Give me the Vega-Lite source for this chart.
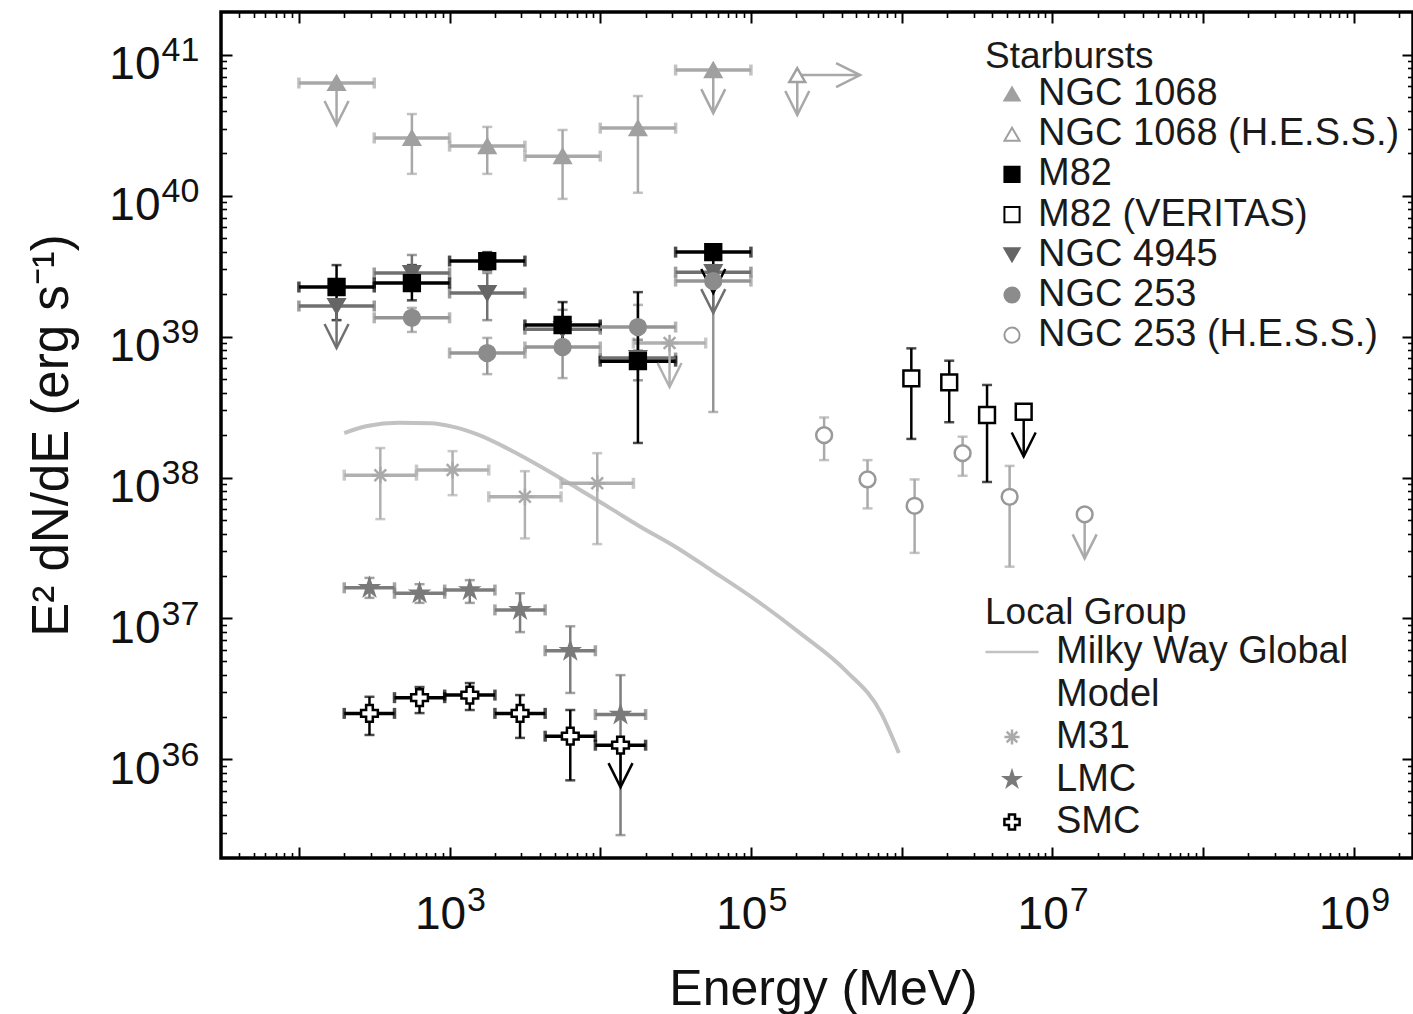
{
"$schema":"https://vega.github.io/schema/vega-lite/v6.json",
"width":1192,"height":846,
"autosize":{"type":"none"},
"padding":{"left":221,"top":12,"right":0,"bottom":156},
"background":"white",
"config":{"view":{"stroke":"#000","strokeWidth":3.5},
"axis":{"grid":false,"labelFont":"Liberation Sans","titleFont":"Liberation Sans","labelColor":"#111","titleColor":"#111","titleFontWeight":"normal","labelFlush":false,"labelOverlap":false}},
"datasets":{
"mw":[
{"e":200,"f":2.07e38},{"e":284,"f":2.32e38},{"e":461,"f":2.45e38},{"e":745,"f":2.43e38},{"e":1042,"f":2.30e38},{"e":1575,"f":2.00e38},{"e":2529,"f":1.57e38},{"e":4063,"f":1.19e38},{"e":7047,"f":8.4e37},{"e":12220,"f":5.87e37},{"e":18460,"f":4.48e37},{"e":31490,"f":3.23e37},{"e":54580,"f":2.20e37},{"e":108000,"f":1.35e37},{"e":212000,"f":7.87e36},{"e":422000,"f":4.30e36},{"e":732000,"f":2.13e36},{"e":959000,"f":1.11e36}],
"pts":[
{"src":"NGC 1068","e":177.8,"elo":100,"ehi":316.2,"f":6.31e40,"ul":true,"ftip":3.18e40},
{"src":"NGC 1068","e":562.3,"elo":316.2,"ehi":1000,"f":2.57e40,"flo":1.43e40,"fhi":3.80e40},
{"src":"NGC 1068","e":1778,"elo":1000,"ehi":3162,"f":2.25e40,"flo":1.43e40,"fhi":3.08e40},
{"src":"NGC 1068","e":5623,"elo":3162,"ehi":10000,"f":1.91e40,"flo":9.5e39,"fhi":2.93e40},
{"src":"NGC 1068","e":17783,"elo":10000,"ehi":31623,"f":3.02e40,"flo":1.05e40,"fhi":5.10e40},
{"src":"NGC 1068","e":56234,"elo":31623,"ehi":100000,"f":7.80e40,"ul":true,"ftip":3.86e40},
{"src":"NGC 1068 (H.E.S.S.)","e":203000,"f":7.19e40,"ul":true,"ftip":3.74e40,"eright":530000},
{"src":"NGC 4945","e":177.8,"elo":100,"ehi":316.2,"f":1.65e39,"ul":true,"ftip":8.3e38},
{"src":"NGC 4945","e":562.3,"elo":316.2,"ehi":1000,"f":2.83e39,"flo":2.18e39,"fhi":3.80e39},
{"src":"NGC 4945","e":1778,"elo":1000,"ehi":3162,"f":2.04e39,"flo":1.31e39,"fhi":2.83e39},
{"src":"NGC 4945","e":5623,"elo":3162,"ehi":10000,"f":1.13e39,"flo":8.0e38,"fhi":1.55e39},
{"src":"NGC 4945","e":17783,"elo":10000,"ehi":31623,"f":7.05e38,"flo":4.9e38,"fhi":9.5e38},
{"src":"NGC 4945","e":56234,"elo":31623,"ehi":100000,"f":2.87e39,"ul":true,"ftip":1.47e39},
{"src":"NGC 253","e":562.3,"elo":316.2,"ehi":1000,"f":1.36e39,"flo":1.08e39,"fhi":1.60e39},
{"src":"NGC 253","e":1778,"elo":1000,"ehi":3162,"f":7.65e38,"flo":5.42e38,"fhi":9.8e38},
{"src":"NGC 253","e":5623,"elo":3162,"ehi":10000,"f":8.44e38,"flo":5.08e38,"fhi":1.11e39},
{"src":"NGC 253","e":17783,"elo":10000,"ehi":31623,"f":1.17e39,"flo":8.0e38,"fhi":1.68e39},
{"src":"NGC 253","e":56234,"elo":31623,"ehi":100000,"f":2.48e39,"flo":2.92e38,"fhi":3.22e39},
{"src":"M82","e":177.8,"elo":100,"ehi":316.2,"f":2.25e39,"flo":1.31e39,"fhi":3.22e39},
{"src":"M82","e":562.3,"elo":316.2,"ehi":1000,"f":2.40e39,"flo":1.81e39,"fhi":3.22e39},
{"src":"M82","e":1778,"elo":1000,"ehi":3162,"f":3.44e39,"flo":2.96e39,"fhi":3.98e39},
{"src":"M82","e":5623,"elo":3162,"ehi":10000,"f":1.21e39,"flo":8.0e38,"fhi":1.76e39},
{"src":"M82","e":17783,"elo":10000,"ehi":31623,"f":6.7e38,"flo":1.76e38,"fhi":2.07e39},
{"src":"M82","e":56234,"elo":31623,"ehi":100000,"f":3.98e39,"ul":true,"ftip":2.04e39},
{"src":"NGC 253 (H.E.S.S.)","e":306000,"f":2.00e38,"flo":1.33e38,"fhi":2.67e38},
{"src":"NGC 253 (H.E.S.S.)","e":594000,"f":9.7e37,"flo":6.04e37,"fhi":1.33e38},
{"src":"NGC 253 (H.E.S.S.)","e":1220000,"f":6.3e37,"flo":2.92e37,"fhi":9.7e37},
{"src":"NGC 253 (H.E.S.S.)","e":2540000,"f":1.49e38,"flo":1.03e38,"fhi":1.95e38},
{"src":"NGC 253 (H.E.S.S.)","e":5210000,"f":7.3e37,"flo":2.33e37,"fhi":1.21e38},
{"src":"NGC 253 (H.E.S.S.)","e":16400000,"f":5.48e37,"ul":true,"ftip":2.67e37},
{"src":"M82 (VERITAS)","e":1160000,"f":5.06e38,"flo":1.88e38,"fhi":8.26e38},
{"src":"M82 (VERITAS)","e":2070000,"f":4.74e38,"flo":2.47e38,"fhi":6.75e38},
{"src":"M82 (VERITAS)","e":3690000,"f":2.78e38,"flo":9.3e37,"fhi":4.54e38},
{"src":"M82 (VERITAS)","e":6460000,"f":2.93e38,"ul":true,"ftip":1.41e38},
{"src":"M31","e":347,"elo":200,"ehi":603,"f":1.04e38,"flo":5.07e37,"fhi":1.62e38},
{"src":"M31","e":1047,"elo":603,"ehi":1820,"f":1.13e38,"flo":7.5e37,"fhi":1.54e38},
{"src":"M31","e":3162,"elo":1820,"ehi":5495,"f":7.3e37,"flo":3.7e37,"fhi":1.11e38},
{"src":"M31","e":9550,"elo":5495,"ehi":16600,"f":9.1e37,"flo":3.37e37,"fhi":1.49e38},
{"src":"M31","e":28840,"elo":16600,"ehi":50100,"f":9.0e38,"ul":true,"ftip":4.39e38},
{"src":"LMC","e":294,"elo":200,"ehi":431,"f":1.65e37,"flo":1.40e37,"fhi":1.94e37},
{"src":"LMC","e":632,"elo":431,"ehi":928,"f":1.51e37,"flo":1.29e37,"fhi":1.75e37},
{"src":"LMC","e":1362,"elo":928,"ehi":2000,"f":1.59e37,"flo":1.29e37,"fhi":1.87e37},
{"src":"LMC","e":2936,"elo":2000,"ehi":4309,"f":1.15e37,"flo":8.0e36,"fhi":1.51e37},
{"src":"LMC","e":6325,"elo":4309,"ehi":9283,"f":5.9e36,"flo":2.96e36,"fhi":8.8e36},
{"src":"LMC","e":13630,"elo":9283,"ehi":20000,"f":2.08e36,"flo":2.9e35,"fhi":3.96e36},
{"src":"SMC","e":294,"elo":200,"ehi":431,"f":2.12e36,"flo":1.49e36,"fhi":2.78e36},
{"src":"SMC","e":632,"elo":431,"ehi":928,"f":2.74e36,"flo":2.13e36,"fhi":3.26e36},
{"src":"SMC","e":1362,"elo":928,"ehi":2000,"f":2.86e36,"flo":2.24e36,"fhi":3.48e36},
{"src":"SMC","e":2936,"elo":2000,"ehi":4309,"f":2.12e36,"flo":1.42e36,"fhi":2.86e36},
{"src":"SMC","e":6325,"elo":4309,"ehi":9283,"f":1.46e36,"flo":7.1e35,"fhi":2.24e36},
{"src":"SMC","e":13630,"elo":9283,"ehi":20000,"f":1.26e36,"ul":true,"ftip":6.35e35}
]},
"data":{"name":"mw"},
"layer":[
{"mark":{"type":"line","color":"#c2c2c2","strokeWidth":4,"interpolate":"monotone"},
 "encoding":{"x":{"field":"e","type":"quantitative","scale":{"type":"log","domain":[30.41,2.477e9],"nice":false},"axis":null},
 "y":{"field":"f","type":"quantitative","scale":{"type":"log","domain":[1.995e35,2.014e41],"nice":false},"axis":null}}},
{"data":{"name":"pts"},"transform":[{"filter":"isValid(datum.elo)"}],
 "mark":{"type":"errorbar","ticks":true,"size":11,"thickness":3.5},
 "encoding":{"x":{"field":"elo","type":"quantitative","scale":{"type":"log","domain":[30.41,2.477e9],"nice":false},"axis":null},"x2":{"field":"ehi"},
 "y":{"field":"f","type":"quantitative","scale":{"type":"log","domain":[1.995e35,2.014e41],"nice":false},"axis":null},
 "color":{"field":"src","type":"nominal","legend":null,"scale":{"domain":["NGC 1068","NGC 1068 (H.E.S.S.)","M82","M82 (VERITAS)","NGC 4945","NGC 253","NGC 253 (H.E.S.S.)","M31","LMC","SMC"],"range":["#a8a8a8","#a8a8a8","#000000","#000000","#707070","#959595","#aaaaaa","#b0b0b0","#7c7c7c","#000000"]}}}},
{"data":{"name":"pts"},"transform":[{"filter":"isValid(datum.flo)"}],
 "mark":{"type":"errorbar","ticks":true,"size":10,"thickness":2.5},
 "encoding":{"y":{"field":"flo","type":"quantitative","scale":{"type":"log","domain":[1.995e35,2.014e41],"nice":false},"axis":null},"y2":{"field":"fhi"},
 "x":{"field":"e","type":"quantitative","scale":{"type":"log","domain":[30.41,2.477e9],"nice":false},"axis":null},
 "color":{"field":"src","type":"nominal","legend":null,"scale":{"domain":["NGC 1068","NGC 1068 (H.E.S.S.)","M82","M82 (VERITAS)","NGC 4945","NGC 253","NGC 253 (H.E.S.S.)","M31","LMC","SMC"],"range":["#a8a8a8","#a8a8a8","#000000","#000000","#707070","#959595","#aaaaaa","#b0b0b0","#7c7c7c","#000000"]}}}},
{"data":{"name":"pts"},"transform":[{"filter":"datum.ul === true"}],
 "mark":{"type":"rule","strokeWidth":2.5},
 "encoding":{"x":{"field":"e","type":"quantitative","scale":{"type":"log","domain":[30.41,2.477e9],"nice":false},"axis":null},
 "y":{"field":"f","type":"quantitative","scale":{"type":"log","domain":[1.995e35,2.014e41],"nice":false},"axis":null},"y2":{"field":"ftip"},
 "color":{"field":"src","type":"nominal","legend":null,"scale":{"domain":["NGC 1068","NGC 1068 (H.E.S.S.)","M82","M82 (VERITAS)","NGC 4945","NGC 253","NGC 253 (H.E.S.S.)","M31","LMC","SMC"],"range":["#a8a8a8","#a8a8a8","#000000","#000000","#707070","#959595","#aaaaaa","#b0b0b0","#7c7c7c","#000000"]}}}},
{"data":{"name":"pts"},"transform":[{"filter":"datum.ul === true"}],
 "mark":{"type":"point","shape":"M-1,-2L0,0L1,-2","size":576,"filled":false,"strokeWidth":2.5,"opacity":1},
 "encoding":{"x":{"field":"e","type":"quantitative","scale":{"type":"log","domain":[30.41,2.477e9],"nice":false},"axis":null},
 "y":{"field":"ftip","type":"quantitative","scale":{"type":"log","domain":[1.995e35,2.014e41],"nice":false},"axis":null},
 "color":{"field":"src","type":"nominal","legend":null,"scale":{"domain":["NGC 1068","NGC 1068 (H.E.S.S.)","M82","M82 (VERITAS)","NGC 4945","NGC 253","NGC 253 (H.E.S.S.)","M31","LMC","SMC"],"range":["#a8a8a8","#a8a8a8","#000000","#000000","#707070","#959595","#aaaaaa","#b0b0b0","#7c7c7c","#000000"]}}}},
{"data":{"name":"pts"},"transform":[{"filter":"isValid(datum.eright)"}],
 "mark":{"type":"rule","strokeWidth":2.5},
 "encoding":{"x":{"field":"e","type":"quantitative","scale":{"type":"log","domain":[30.41,2.477e9],"nice":false},"axis":null},"x2":{"field":"eright"},
 "y":{"field":"f","type":"quantitative","scale":{"type":"log","domain":[1.995e35,2.014e41],"nice":false},"axis":null},
 "color":{"field":"src","type":"nominal","legend":null,"scale":{"domain":["NGC 1068","NGC 1068 (H.E.S.S.)","M82","M82 (VERITAS)","NGC 4945","NGC 253","NGC 253 (H.E.S.S.)","M31","LMC","SMC"],"range":["#a8a8a8","#a8a8a8","#000000","#000000","#707070","#959595","#aaaaaa","#b0b0b0","#7c7c7c","#000000"]}}}},
{"data":{"name":"pts"},"transform":[{"filter":"isValid(datum.eright)"}],
 "mark":{"type":"point","shape":"M-2,-1L0,0L-2,1","size":576,"filled":false,"strokeWidth":2.5,"opacity":1},
 "encoding":{"x":{"field":"eright","type":"quantitative","scale":{"type":"log","domain":[30.41,2.477e9],"nice":false},"axis":null},
 "y":{"field":"f","type":"quantitative","scale":{"type":"log","domain":[1.995e35,2.014e41],"nice":false},"axis":null},
 "color":{"field":"src","type":"nominal","legend":null,"scale":{"domain":["NGC 1068","NGC 1068 (H.E.S.S.)","M82","M82 (VERITAS)","NGC 4945","NGC 253","NGC 253 (H.E.S.S.)","M31","LMC","SMC"],"range":["#a8a8a8","#a8a8a8","#000000","#000000","#707070","#959595","#aaaaaa","#b0b0b0","#7c7c7c","#000000"]}}}},
{"data":{"name":"pts"},"transform":[{"filter":{"field":"src","oneOf":["NGC 1068","NGC 1068 (H.E.S.S.)","M82","M82 (VERITAS)","NGC 4945","NGC 253","NGC 253 (H.E.S.S.)"]}}],
 "mark":{"type":"point","filled":true,"size":250,"strokeWidth":2.5,"opacity":1},
 "encoding":{"x":{"field":"e","type":"quantitative","scale":{"type":"log","domain":[30.41,2.477e9],"nice":false},"axis":null},
 "y":{"field":"f","type":"quantitative","scale":{"type":"log","domain":[1.995e35,2.014e41],"nice":false},"axis":null},
 "shape":{"field":"src","type":"nominal","scale":{"domain":["NGC 1068","NGC 1068 (H.E.S.S.)","M82","M82 (VERITAS)","NGC 4945","NGC 253","NGC 253 (H.E.S.S.)"],"range":["triangle-up","triangle-up","square","square","triangle-down","circle","circle"]},
  "legend":{"title":"Starbursts","orient":"none","legendX":764,"legendY":27,"direction":"vertical","symbolOffset":8,"labelOffset":7,"rowPadding":2.2,"titlePadding":-1,"padding":0,"symbolSize":230,"symbolStrokeWidth":2,"labelFontSize":38,"titleFontSize":37,"labelFont":"Liberation Sans","titleFont":"Liberation Sans","titleFontWeight":"normal","labelColor":"#1a1a1a","titleColor":"#1a1a1a","labelLimit":800,"titleLimit":800}},
 "fill":{"field":"src","type":"nominal","scale":{"domain":["NGC 1068","NGC 1068 (H.E.S.S.)","M82","M82 (VERITAS)","NGC 4945","NGC 253","NGC 253 (H.E.S.S.)"],"range":["#a0a0a0","#ffffff","#000000","#ffffff","#666666","#8c8c8c","#ffffff"]},
  "legend":{"title":"Starbursts","orient":"none","legendX":764,"legendY":27,"direction":"vertical","symbolOffset":8,"labelOffset":7,"rowPadding":2.2,"titlePadding":-1,"padding":0,"symbolSize":230,"symbolStrokeWidth":2,"labelFontSize":38,"titleFontSize":37,"labelFont":"Liberation Sans","titleFont":"Liberation Sans","titleFontWeight":"normal","labelColor":"#1a1a1a","titleColor":"#1a1a1a","labelLimit":800,"titleLimit":800}},
 "stroke":{"field":"src","type":"nominal","scale":{"domain":["NGC 1068","NGC 1068 (H.E.S.S.)","M82","M82 (VERITAS)","NGC 4945","NGC 253","NGC 253 (H.E.S.S.)"],"range":["#a0a0a0","#a0a0a0","#000000","#000000","#666666","#8c8c8c","#999999"]},
  "legend":{"title":"Starbursts","orient":"none","legendX":764,"legendY":27,"direction":"vertical","symbolOffset":8,"labelOffset":7,"rowPadding":2.2,"titlePadding":-1,"padding":0,"symbolSize":230,"symbolStrokeWidth":2,"labelFontSize":38,"titleFontSize":37,"labelFont":"Liberation Sans","titleFont":"Liberation Sans","titleFontWeight":"normal","labelColor":"#1a1a1a","titleColor":"#1a1a1a","labelLimit":800,"titleLimit":800}}}},
{"data":{"name":"pts"},"transform":[{"filter":{"field":"src","oneOf":["M31","LMC","SMC"]}}],
 "mark":{"type":"point","filled":true,"size":280,"strokeWidth":2.5,"opacity":1},
 "encoding":{"x":{"field":"e","type":"quantitative","scale":{"type":"log","domain":[30.41,2.477e9],"nice":false},"axis":null},
 "y":{"field":"f","type":"quantitative","scale":{"type":"log","domain":[1.995e35,2.014e41],"nice":false},"axis":null},
 "shape":{"field":"src","type":"nominal","scale":{"domain":["Milky Way Global","Model","M31","LMC","SMC"],"range":["M-3.5,0L3.5,0","M0,0","M-1,0L1,0M0,-1L0,1M-0.7,-0.7L0.7,0.7M-0.7,0.7L0.7,-0.7","M0,-1L0.223,-0.307L0.951,-0.309L0.361,0.117L0.588,0.809L0,0.38L-0.588,0.809L-0.361,0.117L-0.951,-0.309L-0.223,-0.307Z","cross"]},
  "legend":{"title":"Local Group","orient":"none","legendX":764,"legendY":583,"direction":"vertical","symbolOffset":8,"labelOffset":25,"rowPadding":4.5,"titlePadding":1,"padding":0,"symbolSize":230,"symbolStrokeWidth":2.5,"labelFontSize":38,"titleFontSize":37,"labelFont":"Liberation Sans","titleFont":"Liberation Sans","titleFontWeight":"normal","labelColor":"#1a1a1a","titleColor":"#1a1a1a","labelLimit":800,"titleLimit":800}},
 "fill":{"field":"src","type":"nominal","scale":{"domain":["Milky Way Global","Model","M31","LMC","SMC"],"range":["#c2c2c2","#ffffff","#aaaaaa","#7a7a7a","#ffffff"]},
  "legend":{"title":"Local Group","orient":"none","legendX":764,"legendY":583,"direction":"vertical","symbolOffset":8,"labelOffset":25,"rowPadding":4.5,"titlePadding":1,"padding":0,"symbolSize":230,"symbolStrokeWidth":2.5,"labelFontSize":38,"titleFontSize":37,"labelFont":"Liberation Sans","titleFont":"Liberation Sans","titleFontWeight":"normal","labelColor":"#1a1a1a","titleColor":"#1a1a1a","labelLimit":800,"titleLimit":800}},
 "stroke":{"field":"src","type":"nominal","scale":{"domain":["Milky Way Global","Model","M31","LMC","SMC"],"range":["#c2c2c2","#ffffff","#aaaaaa","#7a7a7a","#000000"]},
  "legend":{"title":"Local Group","orient":"none","legendX":764,"legendY":583,"direction":"vertical","symbolOffset":8,"labelOffset":25,"rowPadding":4.5,"titlePadding":1,"padding":0,"symbolSize":230,"symbolStrokeWidth":2.5,"labelFontSize":38,"titleFontSize":37,"labelFont":"Liberation Sans","titleFont":"Liberation Sans","titleFontWeight":"normal","labelColor":"#1a1a1a","titleColor":"#1a1a1a","labelLimit":800,"titleLimit":800}}}},
{"mark":{"type":"point","opacity":0},
 "encoding":{"x":{"field":"e","type":"quantitative","scale":{"type":"log","domain":[30.41,2.477e9],"nice":false},
   "axis":{"orient":"bottom","values":[1000,100000,10000000,1000000000],"ticks":false,"domain":false,"labelExpr":"'10'","labelAlign":"right","labelBaseline":"alphabetic","labelOffset":16,"labelPadding":70,"labelFontSize":46,"title":"Energy (MeV)","titleFontSize":50,"titleX":602,"titleY":146,"titleBaseline":"alphabetic","titleAlign":"center"}},
 "y":{"field":"f","type":"quantitative","scale":{"type":"log","domain":[1.995e35,2.014e41],"nice":false},
   "axis":{"orient":"left","values":[1e36,1e37,1e38,1e39,1e40,1e41],"ticks":false,"domain":false,"labelExpr":"'10'","labelAlign":"right","labelBaseline":"middle","labelOffset":10,"labelPadding":61,"labelFontSize":46,"title":"E² dN/dE (erg s⁻¹)","titleFontSize":51,"titleX":-154,"titleY":423,"titleAngle":270,"titleBaseline":"alphabetic","titleAlign":"center"}}}},
{"mark":{"type":"point","opacity":0},
 "encoding":{"x":{"field":"e","type":"quantitative","scale":{"type":"log","domain":[30.41,2.477e9],"nice":false},
   "axis":{"orient":"bottom","values":[1000,100000,10000000,1000000000],"ticks":false,"domain":false,"labelExpr":"''+round(log(datum.value)/LN10)","labelAlign":"left","labelBaseline":"alphabetic","labelOffset":17,"labelPadding":52,"labelFontSize":34,"title":null}},
 "y":{"field":"f","type":"quantitative","scale":{"type":"log","domain":[1.995e35,2.014e41],"nice":false},
   "axis":{"orient":"left","values":[1e36,1e37,1e38,1e39,1e40,1e41],"ticks":false,"domain":false,"labelExpr":"''+round(log(datum.value)/LN10)","labelAlign":"left","labelBaseline":"middle","labelOffset":-4,"labelPadding":60,"labelFontSize":34,"title":null}}}},
{"mark":{"type":"point","opacity":0},
 "encoding":{"x":{"field":"e","type":"quantitative","scale":{"type":"log","domain":[30.41,2.477e9],"nice":false},
   "axis":{"orient":"bottom","values":[100,1000,10000,100000,1000000,10000000,100000000,1000000000],"labels":false,"domain":false,"ticks":true,"tickSize":-11,"tickWidth":2,"tickColor":"#000","title":null}},
 "y":{"field":"f","type":"quantitative","scale":{"type":"log","domain":[1.995e35,2.014e41],"nice":false},
   "axis":{"orient":"left","values":[1e36,1e37,1e38,1e39,1e40,1e41],"labels":false,"domain":false,"ticks":true,"tickSize":-11,"tickWidth":2,"tickColor":"#000","title":null}}}},
{"mark":{"type":"point","opacity":0},
 "encoding":{"x":{"field":"e","type":"quantitative","scale":{"type":"log","domain":[30.41,2.477e9],"nice":false},
   "axis":{"orient":"bottom","values":[40,50,60,70,80,90,200,300,400,500,600,700,800,900,2000,3000,4000,5000,6000,7000,8000,9000,2e4,3e4,4e4,5e4,6e4,7e4,8e4,9e4,2e5,3e5,4e5,5e5,6e5,7e5,8e5,9e5,2e6,3e6,4e6,5e6,6e6,7e6,8e6,9e6,2e7,3e7,4e7,5e7,6e7,7e7,8e7,9e7,2e8,3e8,4e8,5e8,6e8,7e8,8e8,9e8,2e9],"labels":false,"domain":false,"ticks":true,"tickSize":-5.5,"tickWidth":1.6,"tickColor":"#000","title":null}},
 "y":{"field":"f","type":"quantitative","scale":{"type":"log","domain":[1.995e35,2.014e41],"nice":false},
   "axis":{"orient":"left","values":[3e35,4e35,5e35,6e35,7e35,8e35,9e35,2e36,3e36,4e36,5e36,6e36,7e36,8e36,9e36,2e37,3e37,4e37,5e37,6e37,7e37,8e37,9e37,2e38,3e38,4e38,5e38,6e38,7e38,8e38,9e38,2e39,3e39,4e39,5e39,6e39,7e39,8e39,9e39,2e40,3e40,4e40,5e40,6e40,7e40,8e40,9e40],"labels":false,"domain":false,"ticks":true,"tickSize":-5.5,"tickWidth":1.6,"tickColor":"#000","title":null}}}},
{"mark":{"type":"point","opacity":0},
 "encoding":{"x":{"field":"e","type":"quantitative","scale":{"type":"log","domain":[30.41,2.477e9],"nice":false},
   "axis":{"orient":"top","values":[100,1000,10000,100000,1000000,10000000,100000000,1000000000],"labels":false,"domain":false,"ticks":true,"tickSize":-11,"tickWidth":2,"tickColor":"#000","title":null}},
 "y":{"field":"f","type":"quantitative","scale":{"type":"log","domain":[1.995e35,2.014e41],"nice":false},
   "axis":{"orient":"right","values":[1e36,1e37,1e38,1e39,1e40,1e41],"labels":false,"domain":false,"ticks":true,"tickSize":-11,"tickWidth":2,"tickColor":"#000","title":null}}}},
{"mark":{"type":"point","opacity":0},
 "encoding":{"x":{"field":"e","type":"quantitative","scale":{"type":"log","domain":[30.41,2.477e9],"nice":false},
   "axis":{"orient":"top","values":[40,50,60,70,80,90,200,300,400,500,600,700,800,900,2000,3000,4000,5000,6000,7000,8000,9000,2e4,3e4,4e4,5e4,6e4,7e4,8e4,9e4,2e5,3e5,4e5,5e5,6e5,7e5,8e5,9e5,2e6,3e6,4e6,5e6,6e6,7e6,8e6,9e6,2e7,3e7,4e7,5e7,6e7,7e7,8e7,9e7,2e8,3e8,4e8,5e8,6e8,7e8,8e8,9e8,2e9],"labels":false,"domain":false,"ticks":true,"tickSize":-5.5,"tickWidth":1.6,"tickColor":"#000","title":null}},
 "y":{"field":"f","type":"quantitative","scale":{"type":"log","domain":[1.995e35,2.014e41],"nice":false},
   "axis":{"orient":"right","values":[3e35,4e35,5e35,6e35,7e35,8e35,9e35,2e36,3e36,4e36,5e36,6e36,7e36,8e36,9e36,2e37,3e37,4e37,5e37,6e37,7e37,8e37,9e37,2e38,3e38,4e38,5e38,6e38,7e38,8e38,9e38,2e39,3e39,4e39,5e39,6e39,7e39,8e39,9e39,2e40,3e40,4e40,5e40,6e40,7e40,8e40,9e40],"labels":false,"domain":false,"ticks":true,"tickSize":-5.5,"tickWidth":1.6,"tickColor":"#000","title":null}}}}
],
"resolve":{"scale":{"shape":"independent","fill":"independent","stroke":"independent"},"axis":{"x":"independent","y":"independent"}}
}
